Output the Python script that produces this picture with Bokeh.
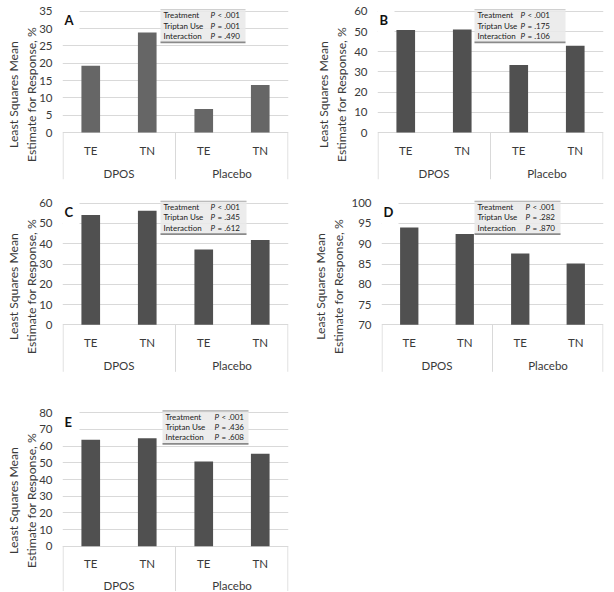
from bokeh.plotting import figure
from bokeh.models import Range1d, FixedTicker
from bokeh.layouts import column, row
from bokeh.core.properties import value
from bokeh.embed import file_html
from bokeh.resources import INLINE

# ---------------- data ----------------
groups = ["DPOS", "Placebo"]
subgroups = ["TE", "TN"]
stat_names = ["Treatment", "Triptan Use", "Interaction"]
y_label = "Least Squares Mean\nEstimate for Response, %"

a_values = [19.3, 28.9, 6.8, 13.7]
b_values = [50.8, 51.0, 33.4, 42.9]
c_values = [54.2, 56.3, 37.1, 41.9]
d_values = [94.0, 92.4, 87.6, 85.1]
e_values = [63.8, 64.8, 50.8, 55.4]

a_ticks = [0, 5, 10, 15, 20, 25, 30, 35]
b_ticks = [0, 10, 20, 30, 40, 50, 60]
c_ticks = [0, 10, 20, 30, 40, 50, 60]
d_ticks = [70, 75, 80, 85, 90, 95, 100]
e_ticks = [0, 10, 20, 30, 40, 50, 60, 70, 80]

a_ops = ["<", "=", "="]
a_pvals = [".001", ".001", ".490"]
b_ops = ["<", "=", "="]
b_pvals = [".001", ".175", ".106"]
c_ops = ["<", "=", "="]
c_pvals = [".001", ".345", ".612"]
d_ops = ["<", "=", "="]
d_pvals = [".001", ".282", ".870"]
e_ops = ["<", "=", "="]
e_pvals = [".001", ".436", ".608"]

FONT = "Lato"
TXT = "#3a3a3a"
GRID = "#d9d9d9"


def make_panel(letter, values, ticks, ops, pvals, bar_color,
               fig_w, fig_h, mb_left, mb_right, mb_top, mb_bottom,
               top_pad_px, cat_px, box_left_px, box_w_px, col2_px,
               group_px=41, label_standoff=-3):
    frame_w = fig_w - mb_left - mb_right
    frame_h = fig_h - mb_top - mb_bottom
    base, top = ticks[0], ticks[-1]
    plot_px = frame_h - top_pad_px - cat_px
    upp = (top - base) / plot_px          # data units per pixel (y)
    n = len(groups) * len(subgroups)
    xpp = n / frame_w                     # data units per pixel (x)

    p = figure(width=fig_w, height=fig_h, output_backend="svg",
               toolbar_location=None, x_axis_location=None,
               x_range=Range1d(0, n),
               y_range=Range1d(base - cat_px * upp, top + top_pad_px * upp),
               min_border_left=mb_left, min_border_right=mb_right,
               min_border_top=mb_top, min_border_bottom=mb_bottom)
    p.outline_line_color = None
    p.background_fill_color = "white"
    p.border_fill_color = "white"
    p.xgrid.visible = False
    p.ygrid.ticker = FixedTicker(ticks=ticks)
    p.ygrid.grid_line_color = GRID
    p.ygrid.grid_line_width = 1

    ax = p.yaxis[0]
    ax.ticker = FixedTicker(ticks=ticks)
    ax.axis_line_color = None
    ax.major_tick_line_color = None
    ax.minor_tick_line_color = None
    ax.major_tick_out = 0
    ax.major_tick_in = 0
    ax.minor_tick_out = 0
    ax.minor_tick_in = 0
    ax.major_label_standoff = 10
    ax.major_label_text_font = FONT
    ax.major_label_text_font_size = "11.5px"
    ax.major_label_text_color = TXT
    ax.axis_label = y_label
    ax.axis_label_text_font = FONT
    ax.axis_label_text_font_size = "12.2px"
    ax.axis_label_text_font_style = "normal"
    ax.axis_label_text_color = TXT
    ax.axis_label_standoff = label_standoff

    # white patch behind the panel letter
    p.quad(left=[0], right=[17 * xpp], top=[top + top_pad_px * upp],
           bottom=[top - 21 * upp], fill_color="white", line_color=None)

    xs = [i + 0.5 for i in range(n)]
    p.vbar(x=xs, top=values, bottom=base, width=0.33,
           fill_color=bar_color, line_color=None)

    # category axis (two levels)
    sep_x = [0.01, len(subgroups), n - 0.01]
    p.segment(x0=sep_x, x1=sep_x, y0=[base] * 3,
              y1=[base - 47 * upp] * 3, line_color=GRID, line_width=1)
    sub_labels = [s for g in groups for s in subgroups]
    p.text(x=xs, y=[base - 17.5 * upp] * n, text=sub_labels,
           text_font=value(FONT), text_font_size="11.5px", text_color=TXT,
           text_align="center", text_baseline="middle")
    gx = [len(subgroups) * (i + 0.5) for i in range(len(groups))]
    p.text(x=gx, y=[base - group_px * upp] * len(groups), text=groups,
           text_font=value(FONT), text_font_size="11.5px", text_color=TXT,
           text_align="center", text_baseline="middle")

    # panel letter
    p.text(x=[2 * xpp], y=[top - 9 * upp], text=[letter],
           text_font=value(FONT), text_font_size="13px",
           text_font_style="bold", text_color="#111111",
           text_align="left", text_baseline="middle")

    # statistics box
    bx0 = box_left_px * xpp
    bx1 = (box_left_px + box_w_px) * xpp
    by1 = top + 2 * upp
    by0 = top - 31 * upp
    p.quad(left=[bx0], right=[bx1], top=[by1], bottom=[by0],
           fill_color="#e9e9e9", fill_alpha=0.85, line_color=None)
    p.segment(x0=[bx0], x1=[bx1], y0=[by1], y1=[by1],
              line_color="#a8a8a8", line_width=1.2)
    p.segment(x0=[bx0], x1=[bx1], y0=[by0], y1=[by0],
              line_color="#8a8a8a", line_width=1.8)
    row_y = [by1 - (6 + 10.2 * i) * upp for i in range(len(stat_names))]
    p.text(x=[bx0 + 3 * xpp] * 3, y=row_y, text=stat_names,
           text_font=value(FONT), text_font_size="8px", text_color="#222222",
           text_align="left", text_baseline="middle")
    p.text(x=[bx0 + col2_px * xpp] * 3, y=row_y, text=["P"] * 3,
           text_font=value(FONT), text_font_size="8px",
           text_font_style="italic", text_color="#222222",
           text_align="left", text_baseline="middle")
    p.text(x=[bx0 + (col2_px + 7) * xpp] * 3, y=row_y,
           text=[f"{o} {v}" for o, v in zip(ops, pvals)],
           text_font=value(FONT), text_font_size="8px", text_color="#222222",
           text_align="left", text_baseline="middle")
    return p


pa = make_panel("A", a_values, a_ticks, a_ops, a_pvals, "#666666",
                300, 196, 62, 12, 9, 17, 1.8, 47, 98, 85, 50)
pb = make_panel("B", b_values, b_ticks, b_ops, b_pvals, "#505050",
                314, 196, 77, 11, 9, 17, 1.8, 47, 97, 91, 46,
                label_standoff=2)
pc = make_panel("C", c_values, c_ticks, c_ops, c_pvals, "#505050",
                300, 188, 62, 12, 4, 12, 2.7, 47.7, 98, 86, 50)
pd = make_panel("D", d_values, d_ticks, d_ops, d_pvals, "#505050",
                314, 188, 81, 11, 4, 12, 2.7, 47.7, 93, 86, 51,
                label_standoff=2)
pe = make_panel("E", e_values, e_ticks, e_ops, e_pvals, "#505050",
                300, 207, 62, 12, 25, 0, 3.3, 45.3, 100, 86, 52,
                group_px=39)

layout = column(row(pa, pb), row(pc, pd), pe)
open("out.html", "w").write(file_html(layout, INLINE))
